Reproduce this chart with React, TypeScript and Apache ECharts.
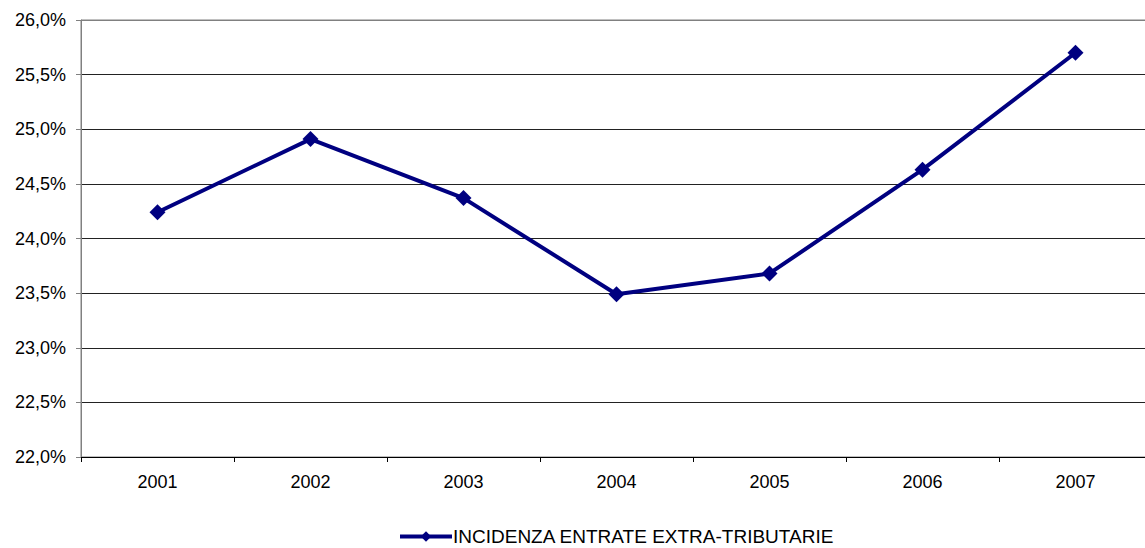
import React, { useEffect, useRef } from "react";
import * as echarts from "echarts";

const categories = ["2001", "2002", "2003", "2004", "2005", "2006", "2007"];
const values = [24.24, 24.91, 24.37, 23.49, 23.68, 24.63, 25.7];
const seriesName = "INCIDENZA ENTRATE EXTRA-TRIBUTARIE";
const yMin = 22;
const yMax = 26;
const yStep = 0.5;

export default function App() {
  const ref = useRef<HTMLDivElement>(null);
  useEffect(() => {
    if (!ref.current) return;
    const chart = echarts.init(ref.current, undefined, { renderer: "svg" });
    const font = "'Liberation Sans', Arial, sans-serif";
    const splitColors = [];
    for (let v = yMin; v <= yMax + 1e-9; v += yStep) splitColors.push("#222");
    splitColors[splitColors.length - 1] = "#808080";
    chart.setOption({
      animation: false,
      backgroundColor: "#fff",
      grid: {
        left: 81,
        top: 20,
        right: 8,
        bottom: 91,
        show: true,
        borderColor: "#808080",
        borderWidth: 1,
      },
      legend: {
        left: 393,
        top: 522,
        itemWidth: 52,
        itemHeight: 13,
        itemGap: 10,
        lineStyle: { width: 4 },
        textStyle: { fontFamily: font, fontSize: 19, color: "#000", padding: [0, 0, 0, -4] },
        data: [seriesName],
      },
      xAxis: {
        type: "category",
        data: categories,
        boundaryGap: true,
        axisLine: { lineStyle: { color: "#000", width: 1 } },
        axisTick: { show: true, length: 5, lineStyle: { color: "#000" } },
        axisLabel: { fontFamily: font, fontSize: 18, color: "#000", margin: 16 },
        splitLine: { show: false },
      },
      yAxis: {
        type: "value",
        min: yMin,
        max: yMax,
        interval: yStep,
        axisLine: { show: true, lineStyle: { color: "#808080", width: 1 } },
        axisTick: { show: true, length: 5, lineStyle: { color: "#808080" } },
        axisLabel: {
          fontFamily: font,
          fontSize: 18,
          color: "#000",
          margin: 15,
          formatter: (v: number) => v.toFixed(1).replace(".", ",") + "%",
        },
        splitLine: { show: true, lineStyle: { color: splitColors, width: 1 } },
      },
      series: [
        {
          name: seriesName,
          type: "line",
          data: values,
          symbol: "diamond",
          symbolSize: 16,
          lineStyle: { color: "#000080", width: 4 },
          itemStyle: { color: "#000080" },
          emphasis: { disabled: true },
        },
      ],
    });
    return () => chart.dispose();
  }, []);
  return (
    <div
      style={{
        position: "absolute",
        left: 0,
        top: 0,
        width: 1145,
        height: 548,
        overflow: "hidden",
        background: "#fff",
      }}
    >
      <div ref={ref} style={{ width: 1160, height: 548 }} />
    </div>
  );
}
